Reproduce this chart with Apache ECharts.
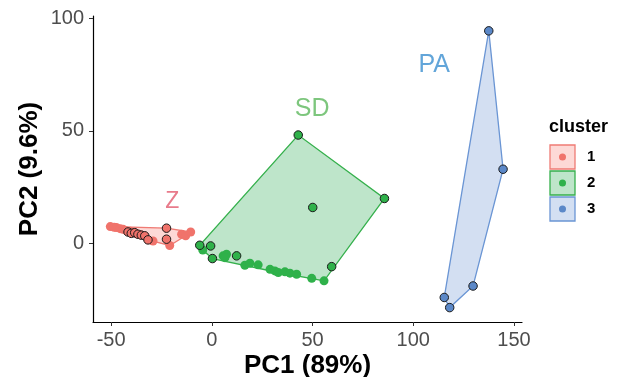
<!DOCTYPE html>
<html>
<head>
<meta charset="utf-8">
<script src="https://cdn.jsdelivr.net/npm/echarts@6/dist/echarts.min.js"></script>
<style>
  html, body { margin: 0; padding: 0; background: #fff; }
  #chart { width: 617px; height: 377px; }
</style>
</head>
<body>
<div id="chart"></div>
<script>
// cluster 1 (Z)
const zPlain = [[-50.4, 7.4], [-48.5, 7.1], [-47.4, 7.0], [-45.5, 6.5], [-44.1, 6.2], [-42.5, 5.6],
  [-40.5, 5.3], [-39, 4.9], [-37.5, 4.3], [-35.5, 3.9], [-29.2, 1.0], [-20.9, -1.0],
  [-15, 4.0], [-13, 3.3], [-10.5, 5.0]];
const zRing = [[-41.6, 5.0], [-40, 4.4], [-38.3, 4.7], [-36.7, 4.0], [-35, 3.6], [-33.3, 3.3],
  [-31.7, 1.5], [-22.5, 6.7], [-22.5, 1.8]];
// cluster 2 (SD)
const sdPlain = [[-4.5, -3.0], [5.6, -5.6], [7.3, -4.9], [6.5, -6.4], [16.4, -9.8], [18.9, -8.9],
  [23, -9.6], [28.9, -11.6], [31.3, -12.3], [33, -13.0], [36.3, -12.7], [38.8, -13.3],
  [42.1, -13.8], [49.6, -15.6], [55.7, -16.7]];
const sdRing = [[42.9, 48.1], [85.7, 19.9], [50.1, 15.9], [-6.0, -0.9], [-0.6, -1.2],
  [0.3, -6.8], [12.3, -5.6], [59.5, -10.4]];
// cluster 3 (PA)
const paRing = [[137.5, 94.4], [144.6, 32.9], [129.7, -19.0], [115.4, -24.1], [118.1, -28.6]];

const xTicks = [-50, 0, 50, 100, 150];
const yTicks = [0, 50, 100];
const clusterNames = ['1', '2', '3'];
const groupLabels = ['Z', 'SD', 'PA'];
const groupLabelPos = [[-19.7, 18.6], [49.8, 59.4], [110.4, 79.0]];
const groupLabelSize = [23, 25, 25];

const lineCols = ['#ef7b74', '#35b04c', '#6a95d4'];
const fillCols = ['rgba(248,118,109,0.28)', 'rgba(40,170,80,0.30)', 'rgba(97,140,210,0.28)'];
const dotCols = ['#f0736b', '#2fb14a', '#5b88c8'];
const textCols = ['#e25a6e', '#5cb85c', '#3b8fd0'];
const font = 'Liberation Sans, Arial, sans-serif';

function hull(pts) {
  const p = pts.slice().sort((a, b) => a[0] - b[0] || a[1] - b[1]);
  const cross = (o, a, b) => (a[0] - o[0]) * (b[1] - o[1]) - (a[1] - o[1]) * (b[0] - o[0]);
  const lo = [], up = [];
  for (const q of p) {
    while (lo.length >= 2 && cross(lo[lo.length - 2], lo[lo.length - 1], q) <= 0) lo.pop();
    lo.push(q);
  }
  for (let i = p.length - 1; i >= 0; i--) {
    const q = p[i];
    while (up.length >= 2 && cross(up[up.length - 2], up[up.length - 1], q) <= 0) up.pop();
    up.push(q);
  }
  return lo.slice(0, -1).concat(up.slice(0, -1));
}

const groups = [zPlain.concat(zRing), sdPlain.concat(sdRing), paRing];

const series = [];
groups.forEach((g, i) => {
  const h = hull(g);
  series.push({
    type: 'custom',
    silent: true,
    data: [h[0]],
    renderItem: function (params, api) {
      const pts = h.map(d => api.coord(d));
      return {
        type: 'polygon',
        shape: { points: pts },
        style: { fill: fillCols[i], stroke: lineCols[i], lineWidth: 1.3 }
      };
    },
    z: 1
  });
});
[zPlain, sdPlain].forEach((d, i) => {
  series.push({
    type: 'scatter', data: d, symbolSize: 9,
    itemStyle: { color: dotCols[i], opacity: 1 }, z: 3
  });
});
[zRing, sdRing, paRing].forEach((d, i) => {
  series.push({
    type: 'scatter', data: d, symbolSize: 8.5,
    itemStyle: { color: dotCols[i], borderColor: '#1a1a1a', borderWidth: 1, opacity: 1 }, z: 4
  });
});
series.push({
  type: 'scatter',
  data: groupLabelPos.map((p, i) => ({
    value: p,
    label: { show: true, formatter: groupLabels[i], color: textCols[i], fontSize: groupLabelSize[i] }
  })),
  symbolSize: 0,
  label: { position: 'inside', fontFamily: font },
  z: 5
});

// legend drawn as graphics
const legendGraphics = [{
  type: 'text', left: 549, top: 118,
  style: { text: 'cluster', font: 'bold 18px ' + font, fill: '#000' }
}];
clusterNames.forEach((n, i) => {
  const top = 145 + i * 26;
  legendGraphics.push({
    type: 'rect', shape: { x: 550, y: top, width: 25, height: 24 },
    style: { fill: fillCols[i], stroke: lineCols[i], lineWidth: 1.3 }
  });
  legendGraphics.push({
    type: 'circle', shape: { cx: 562.5, cy: top + 12, r: 3.5 },
    style: { fill: dotCols[i] }
  });
  legendGraphics.push({
    type: 'text', left: 587, top: top + 4,
    style: { text: n, font: 'bold 15px ' + font, fill: '#000' }
  });
});

const chart = echarts.init(document.getElementById('chart'));
chart.setOption({
  animation: false,
  grid: { left: 93, right: 95, top: 16, bottom: 55, containLabel: false, outerBoundsMode: 'none' },
  xAxis: {
    type: 'value', min: -59, max: 154,
    name: 'PC1 (89%)', nameLocation: 'middle', nameGap: 31, nameMoveOverlap: false,
    nameTextStyle: { fontSize: 26, fontWeight: 'bold', color: '#000', fontFamily: font },
    axisLine: { show: true, onZero: false, lineStyle: { color: '#000', width: 1.2 } },
    axisTick: { show: true, length: 4, customValues: xTicks, lineStyle: { color: '#333' } },
    axisLabel: { customValues: xTicks, fontSize: 20, color: '#4d4d4d', margin: 8, fontFamily: font },
    splitLine: { show: false }
  },
  yAxis: {
    type: 'value', min: -35, max: 101,
    name: 'PC2 (9.6%)', nameLocation: 'middle', nameGap: 50, nameMoveOverlap: false,
    nameTextStyle: { fontSize: 26, fontWeight: 'bold', color: '#000', fontFamily: font },
    axisLine: { show: true, onZero: false, lineStyle: { color: '#000', width: 1.2 } },
    axisTick: { show: true, length: 4, customValues: yTicks, lineStyle: { color: '#333' } },
    axisLabel: { customValues: yTicks, fontSize: 20, color: '#4d4d4d', margin: 9, fontFamily: font },
    splitLine: { show: false }
  },
  graphic: legendGraphics,
  series: series
});
</script>
</body>
</html>
